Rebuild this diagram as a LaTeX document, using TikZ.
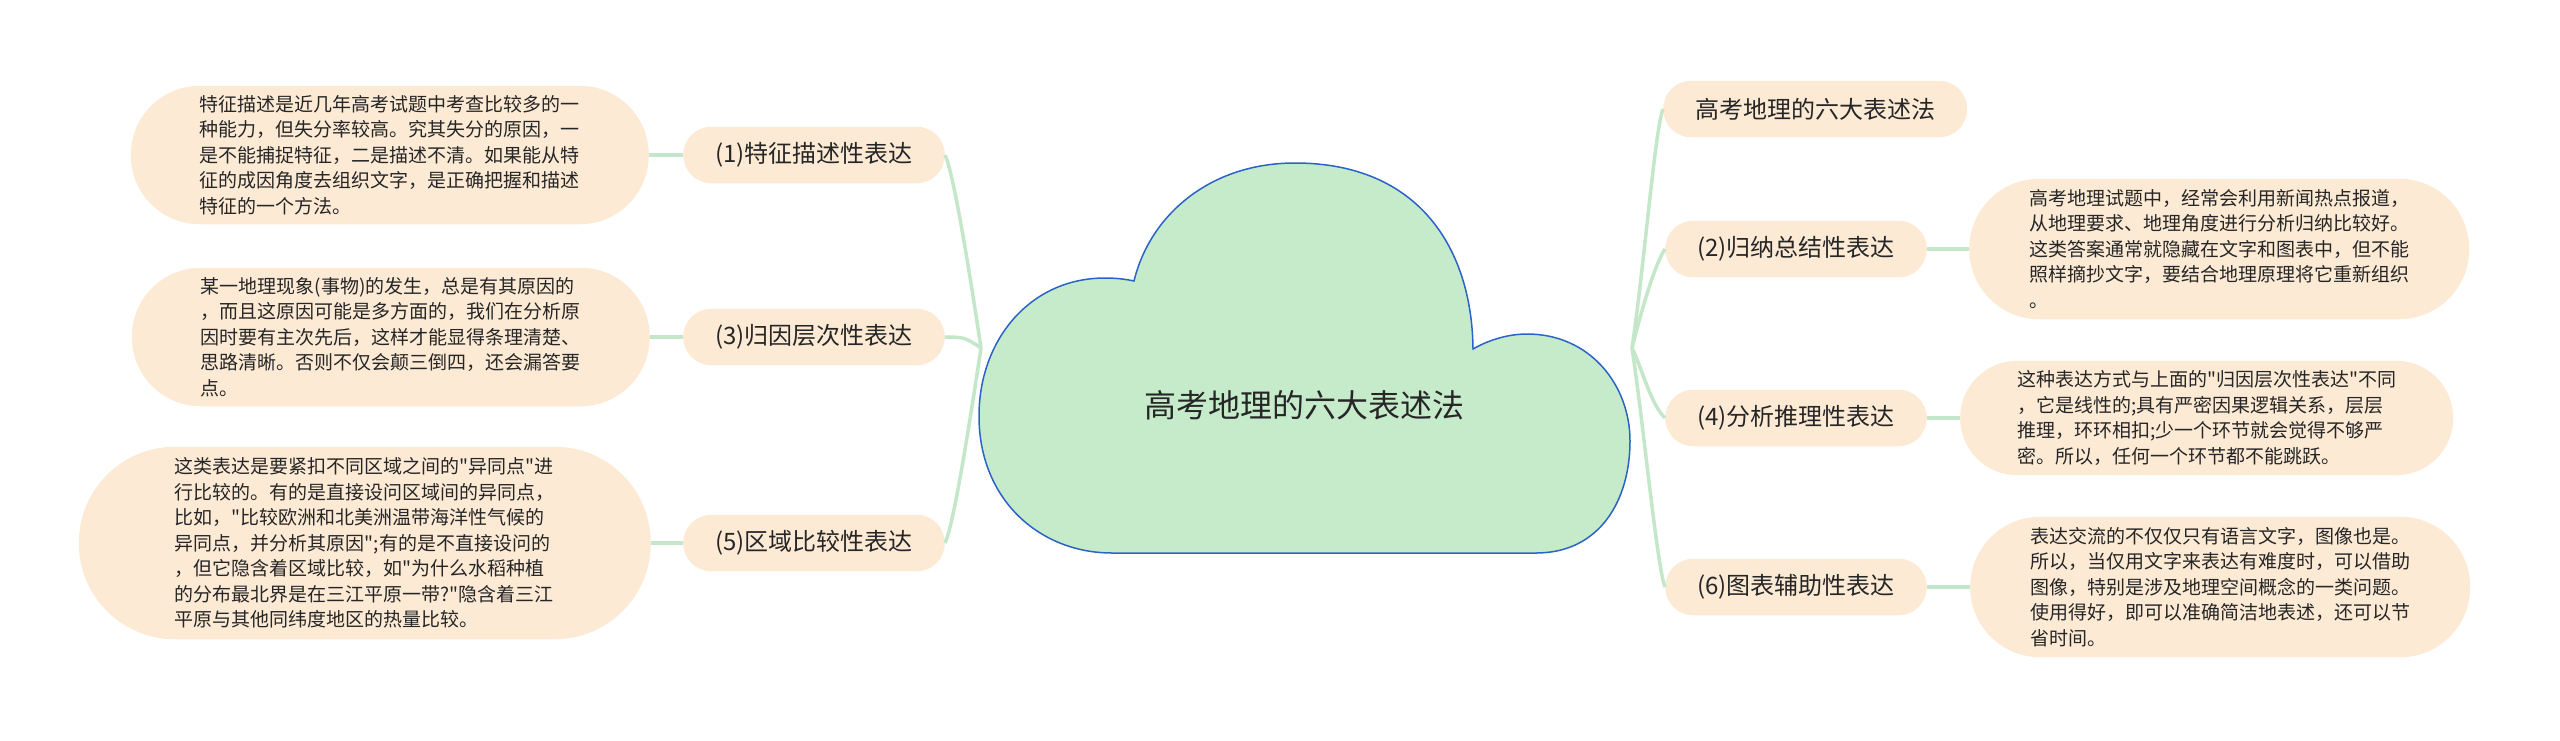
\documentclass[tikz,border=0pt]{standalone}
\usepackage{fontspec}
\newfontfamily\cjkfont{Noto Sans CJK SC}
\definecolor{pill}{HTML}{FCEAD5}
\definecolor{cloudfill}{HTML}{C6EBCA}
\definecolor{cloudline}{HTML}{2B63C8}
\definecolor{linkc}{HTML}{C5E7C9}
\definecolor{ink}{HTML}{262626}

\begin{document}
\begin{tikzpicture}[x=1pt,y=-1pt,
  branch/.style={rectangle,rounded corners=28pt,minimum height=56.5pt,fill=pill,inner xsep=32pt,inner ysep=2pt,text=ink,font=\cjkfont\fontsize{24}{28}\selectfont},
  leaf/.style={rectangle,rounded corners=#1,minimum height=2*#1+0.5pt,fill=pill,inner xsep=#1,inner ysep=4pt,text=ink,align=left,font=\cjkfont\fontsize{19}{25.5}\selectfont},
  link/.style={draw=linkc,line width=3.5pt}]
\useasboundingbox (0,0) rectangle (2560,740);

% left side
\node[branch] (tezheng) at (814,155) {(1)特征描述性表达};
\node[branch] (guiyin) at (814,337) {(3)归因层次性表达};
\node[branch] (quyu) at (814,543) {(5)区域比较性表达};
\node[leaf=69pt,anchor=east] (tezhengtxt) at (649,155) {特征描述是近几年高考试题中考查比较多的一\\种能力，但失分率较高。究其失分的原因，一\\是不能捕捉特征，二是描述不清。如果能从特\\征的成因角度去组织文字，是正确把握和描述\\特征的一个方法。};
\node[leaf=69pt,anchor=east] (guiyintxt) at (650,337) {某一地理现象(事物)的发生，总是有其原因的\\，而且这原因可能是多方面的，我们在分析原\\因时要有主次先后，这样才能显得条理清楚、\\思路清晰。否则不仅会颠三倒四，还会漏答要\\点。};
\node[leaf=96pt,anchor=east] (quyutxt) at (651,543) {这类表达是要紧扣不同区域之间的"异同点"进\\行比较的。有的是直接设问区域间的异同点，\\比如，"比较欧洲和北美洲温带海洋性气候的\\异同点，并分析其原因";有的是不直接设问的\\，但它隐含着区域比较，如"为什么水稻种植\\的分布最北界是在三江平原一带?"隐含着三江\\平原与其他同纬度地区的热量比较。};

% right side
\node[branch,anchor=west] (title) at (1663,109) {高考地理的六大表述法};
\node[branch,anchor=west] (guina) at (1665,249) {(2)归纳总结性表达};
\node[branch,anchor=west] (fenxi) at (1665,418) {(4)分析推理性表达};
\node[branch,anchor=west] (tubiao) at (1665,587) {(6)图表辅助性表达};
\node[leaf=70pt,inner xsep=60pt,anchor=west] (guinatxt) at (1969,249) {高考地理试题中，经常会利用新闻热点报道，\\从地理要求、地理角度进行分析归纳比较好。\\这类答案通常就隐藏在文字和图表中，但不能\\照样摘抄文字，要结合地理原理将它重新组织\\。};
\node[leaf=57pt,anchor=west] (fenxitxt) at (1960,418) {这种表达方式与上面的"归因层次性表达"不同\\，它是线性的;具有严密因果逻辑关系，层层\\推理，环环相扣;少一个环节就会觉得不够严\\密。所以，任何一个环节都不能跳跃。};
\node[leaf=70pt,inner xsep=60pt,anchor=west] (tubiaotxt) at (1970,587) {表达交流的不仅仅只有语言文字，图像也是。\\所以，当仅用文字来表达有难度时，可以借助\\图像，特别是涉及地理空间概念的一类问题。\\使用得好，即可以准确简洁地表述，还可以节\\省时间。};

\coordinate (jl) at (981,348);
\coordinate (jr) at (1632,348);
\draw[link] (tezheng.east) .. controls +(8,15) and +(-12,-80) .. (jl);
\draw[link] (guiyin.east) .. controls +(20,0) and +(-15,-10) .. (jl);
\draw[link] (quyu.east) .. controls +(8,-15) and +(-12,80) .. (jl);
\draw[link] (jr) .. controls +(12,-80) and +(-8,20) .. (title.west);
\draw[link] (jr) .. controls +(10,-40) and +(-10,15) .. (guina.west);
\draw[link] (jr) .. controls +(10,20) and +(-15,-15) .. (fenxi.west);
\draw[link] (jr) .. controls +(12,80) and +(-8,-20) .. (tubiao.west);
\draw[link] (tezhengtxt.east) -- (tezheng.west);
\draw[link] (guiyintxt.east) -- (guiyin.west);
\draw[link] (quyutxt.east) -- (quyu.west);
\draw[link] (guina.east) -- (guinatxt.west);
\draw[link] (fenxi.east) -- (fenxitxt.west);
\draw[link] (tubiao.east) -- (tubiaotxt.west);

% cloud
\draw[fill=cloudfill,draw=cloudline,line width=1.5pt] (1112,553) -- (1536,553)
  .. controls (1600,553) and (1630,500) .. (1630,441)
  .. controls (1630,385) and (1590,334) .. (1527,334)
  .. controls (1505,334) and (1485,342) .. (1473,349)
  .. controls (1472,250) and (1420,163) .. (1295,163)
  .. controls (1210,163) and (1150,215) .. (1134,281)
  .. controls (1125,279) and (1115,278) .. (1105,278)
  .. controls (1030,278) and (979,340) .. (979,416)
  .. controls (979,500) and (1040,553) .. (1112,553) -- cycle;
\node[text=ink,font=\cjkfont\fontsize{32}{38}\selectfont] (root) at (1304,405) {高考地理的六大表述法};

\end{tikzpicture}
\end{document}
